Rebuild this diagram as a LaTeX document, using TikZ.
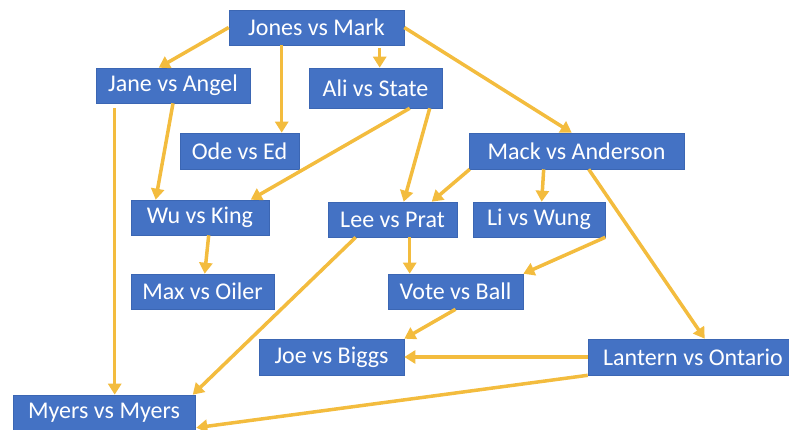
\documentclass[tikz,border=0pt]{standalone}
\usepackage{fontspec}
\setmainfont{Carlito}
\usetikzlibrary{calc,arrows.meta}
\definecolor{boxblue}{HTML}{4472C4}
\definecolor{boxedge}{HTML}{3B66B3}
\definecolor{gold}{HTML}{F3BC3E}
\tikzset{
  game/.style={rectangle, fill=boxblue, draw=boxedge, line width=0.6pt, text=white,
    font=\fontsize{24}{28}\selectfont, inner sep=0pt, minimum height=35pt},
  link/.style={draw=gold, line width=3.5pt, -{Triangle[length=11pt,width=13pt]}}
}
\begin{document}
\begin{tikzpicture}[x=1pt,y=-1pt]
\useasboundingbox (0,0) rectangle (789,430);
\clip (0,0) rectangle (789,430);
\node[game,minimum width=175pt] (jones) at (316.5,27.5) {Jones vs Mark};
\node[game,minimum width=154pt] (jane) at (173,85.5) {Jane vs Angel};
\node[game,minimum width=133pt,minimum height=40pt] (ali) at (375.5,88) {Ali vs State};
\node[game,minimum width=119pt,minimum height=36pt] (ode) at (239.5,151) {Ode vs Ed};
\node[game,minimum width=215pt,minimum height=36pt] (mack) at (576.5,151) {Mack vs Anderson};
\node[game,minimum width=138pt] (wu) at (200,217.5) {Wu vs King};
\node[game,minimum width=129pt] (lee) at (392.5,219.5) {Lee vs Prat};
\node[game,minimum width=132pt] (li) at (539,219.5) {Li vs Wung};
\node[game,minimum width=143pt] (max) at (202.5,291.5) {Max vs Oiler};
\node[game,minimum width=135pt] (vote) at (455.5,291.5) {Vote vs Ball};
\node[game,minimum width=145pt,minimum height=36pt] (joe) at (331.5,357) {Joe vs Biggs};
\node[game,minimum width=210pt,minimum height=36pt] (lantern) at (693,357) {Lantern vs Ontario};
\node[game,minimum width=182pt,minimum height=36pt] (myers) at (104,413) {Myers vs Myers};

\draw[link] (jones.west) -- ($(jane.north west)+(63,0)$);
\draw[link] ($(jones.south west)+(53,0)$) -- ($(ode.north west)+(102,0)$);
\draw[link] ($(jones.south west)+(151,3)$) -- ($(ali.north west)+(71,0)$);
\draw[link] (jones.east) -- ($(mack.north west)+(103,0)$);
\draw[link] ($(jane.south west)+(19,5)$) -- ($(myers.north west)+(102,0)$);
\draw[link] (jane.south) -- ($(wu.north west)+(25,0)$);
\draw[link] ($(ali.south west)+(101,0)$) -- ($(wu.north west)+(120,0)$);
\draw[link] ($(ali.south west)+(121,0)$) -- ($(lee.north west)+(76,0)$);
\draw[link] ($(mack.south west)+(1,0)$) -- ($(lee.north west)+(104,0)$);
\draw[link] ($(mack.south west)+(75,0)$) -- ($(li.north west)+(69,0)$);
\draw[link] ($(mack.south west)+(120,0)$) -- ($(lantern.north west)+(117,0)$);
\draw[link] ($(lee.south west)+(82,0)$) -- ($(vote.north west)+(22,0)$);
\draw[link] ($(lee.south west)+(28,0)$) -- ($(myers.north west)+(180,0)$);
\draw[link] ($(wu.south west)+(78,0)$) -- ($(max.north west)+(74,0)$);
\draw[link] (li.south east) -- (vote.north east);
\draw[link] (vote.south) -- (joe.north east);
\draw[link] (lantern.west) -- (joe.east);
\draw[link] (lantern.south west) -- ($(myers.north east)+(1,33)$);
\end{tikzpicture}
\end{document}
